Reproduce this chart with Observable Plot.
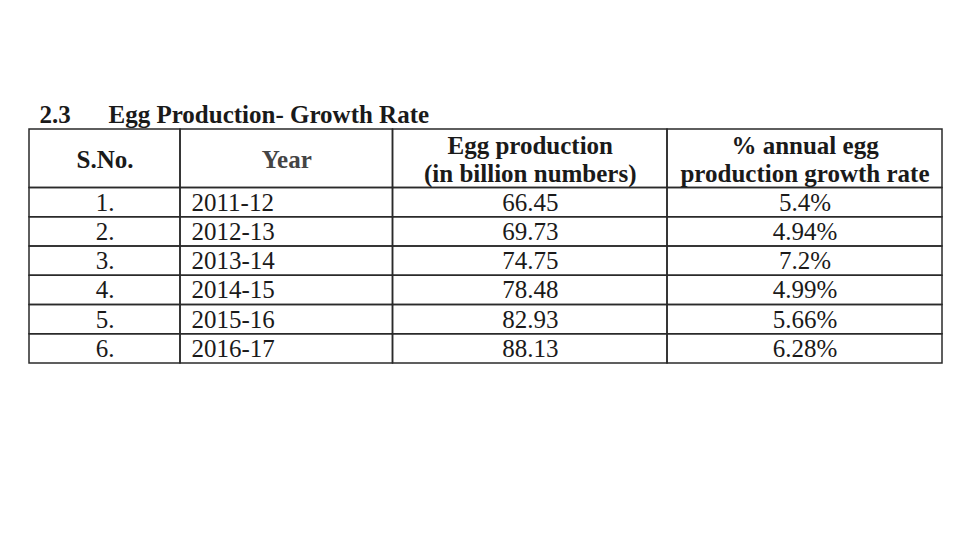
<!DOCTYPE html>
<html>
<head>
<meta charset="utf-8">
<script src="https://cdn.jsdelivr.net/npm/d3@7"></script>
<script src="https://cdn.jsdelivr.net/npm/@observablehq/plot@0.6"></script>
<style>
  html, body { margin: 0; padding: 0; background: #ffffff; }
  #chart svg { display: block; }
</style>
</head>
<body>
<div id="chart"></div>
<script>
const sectionNo = "2.3";
const title = "Egg Production- Growth Rate";
const headers = ["S.No.", "Year", "Egg production\n(in billion numbers)", "% annual egg\nproduction growth rate"];
const serials = ["1.", "2.", "3.", "4.", "5.", "6."];
const years = ["2011-12", "2012-13", "2013-14", "2014-15", "2015-16", "2016-17"];
const production = [66.45, 69.73, 74.75, 78.48, 82.93, 88.13];
const growthRate = [5.4, 4.94, 7.2, 4.99, 5.66, 6.28];

// ---- Layout (column widths in table units, header spans two row units) ----
const colWidths = [151, 212.5, 274.5, 275];
const colStart = colWidths.map((w, i) => d3.sum(colWidths.slice(0, i)));
const total = d3.sum(colWidths);
const headerRows = 2;

// Cells
const cells = [];
colWidths.forEach((w, c) => {
  cells.push({x1: colStart[c], x2: colStart[c] + w, y1: 0, y2: headerRows});
  years.forEach((_, r) => {
    cells.push({x1: colStart[c], x2: colStart[c] + w, y1: headerRows + r, y2: headerRows + r + 1});
  });
});

const headerText = headers.map((h, c) => ({
  x: colStart[c] + colWidths[c] / 2, y: headerRows / 2, text: h, fill: c === 1 ? "#444" : "#1a1a1a"
}));

const rows = years.map((yr, r) => ({
  sno: serials[r], year: yr, prod: production[r].toFixed(2), growth: growthRate[r] + "%",
  y: headerRows + r + 0.5
}));

const font = "'Liberation Serif', 'Times New Roman', serif";
const fs = 25;

const chart = Plot.plot({
  width: 960,
  height: 540,
  marginLeft: 29,
  marginRight: 18,
  marginTop: 129,
  marginBottom: 177,
  x: {domain: [0, total], axis: null},
  y: {domain: [0, headerRows + years.length], reverse: true, axis: null},
  marks: [
    Plot.rect(cells, {x1: "x1", x2: "x2", y1: "y1", y2: "y2", fill: "none", stroke: "#2a2a2a", strokeWidth: 1.5}),
    // Title
    Plot.text([sectionNo], {x: 10, y: -0.5, text: d => d, textAnchor: "start", fontFamily: font, fontWeight: "bold", fontSize: fs, fill: "#1a1a1a"}),
    Plot.text([title], {x: 79, y: -0.5, text: d => d, textAnchor: "start", fontFamily: font, fontWeight: "bold", fontSize: fs, fill: "#1a1a1a"}),
    // Header
    Plot.text(headerText, {x: "x", y: "y", text: "text", fill: "fill", fontFamily: font, fontWeight: "bold", fontSize: fs, lineHeight: 1.12}),
    // Body
    Plot.text(rows, {x: colStart[0] + colWidths[0] / 2, y: "y", text: "sno", fontFamily: font, fontSize: fs, fill: "#1a1a1a"}),
    Plot.text(rows, {x: colStart[1] + 11, y: "y", text: "year", textAnchor: "start", fontFamily: font, fontSize: fs, fill: "#1a1a1a"}),
    Plot.text(rows, {x: colStart[2] + colWidths[2] / 2, y: "y", text: "prod", fontFamily: font, fontSize: fs, fill: "#1a1a1a"}),
    Plot.text(rows, {x: colStart[3] + colWidths[3] / 2, y: "y", text: "growth", fontFamily: font, fontSize: fs, fill: "#1a1a1a"})
  ]
});
document.getElementById("chart").appendChild(chart);
</script>
</body>
</html>
